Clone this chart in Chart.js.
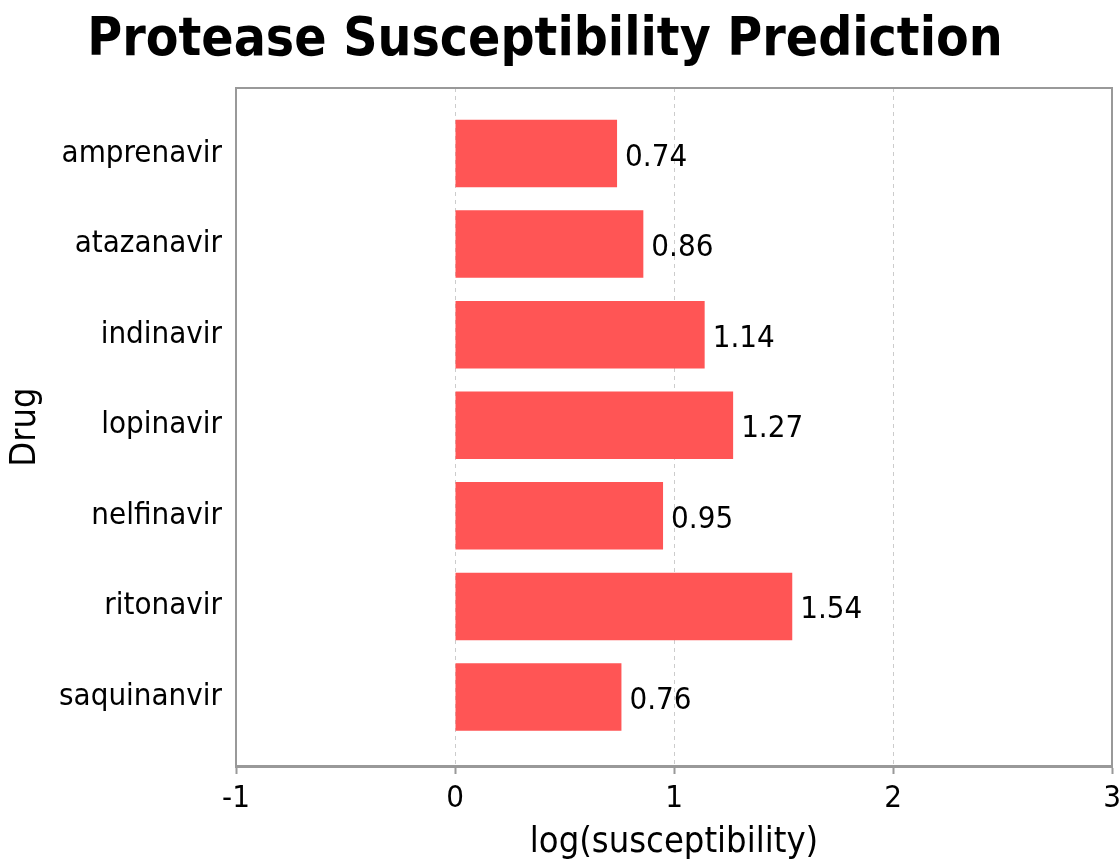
<!DOCTYPE html>
<html>
<head>
<meta charset="utf-8">
<script src="https://cdn.jsdelivr.net/npm/chart.js@4"></script>
<style>
  html, body { margin: 0; padding: 0; background: #ffffff; }
  #wrap { width: 1120px; height: 861px; }
</style>
</head>
<body>
<div id="wrap"><canvas id="chart"></canvas></div>
<script>
var drugs = ["amprenavir", "atazanavir", "indinavir", "lopinavir", "nelfinavir", "ritonavir", "saquinanvir"];
var log_susceptibility = [0.74, 0.86, 1.14, 1.27, 0.95, 1.54, 0.76];
var x_ticks = [-1, 0, 1, 2, 3];
var chart_title = "Protease Susceptibility Prediction";

var font_family = "'DejaVu Sans Condensed', 'DejaVu Sans', sans-serif";

// bars are placed on a numeric index axis so the category margins can match the original
var bar_points = drugs.map(function(d, i) {
  return { x: log_susceptibility[i], y: i };
});

// title drawn by hand so it can sit a bit left of the page center
var title_plugin = {
  id: "title_text",
  afterDraw: function(chart) {
    var ctx = chart.ctx;
    ctx.save();
    ctx.font = "bold 53px " + font_family;
    ctx.fillStyle = "#000000";
    ctx.textAlign = "center";
    ctx.textBaseline = "alphabetic";
    ctx.fillText(chart_title, 545, 55);
    ctx.restore();
  }
};

// frame around the plot area (top and right side, left/bottom are axis borders)
var frame_plugin = {
  id: "frame",
  afterDraw: function(chart) {
    var ctx = chart.ctx;
    var a = chart.chartArea;
    ctx.save();
    ctx.strokeStyle = "#999999";
    ctx.lineWidth = 2;
    ctx.beginPath();
    ctx.moveTo(a.left, a.top);
    ctx.lineTo(a.right, a.top);
    ctx.lineTo(a.right, a.bottom);
    ctx.stroke();
    ctx.restore();
  }
};

// value labels to the right of each bar
var value_labels = {
  id: "value_labels",
  afterDatasetsDraw: function(chart) {
    var ctx = chart.ctx;
    var meta = chart.getDatasetMeta(0);
    ctx.save();
    ctx.font = "31px " + font_family;
    ctx.fillStyle = "#000000";
    ctx.textAlign = "left";
    ctx.textBaseline = "middle";
    meta.data.forEach(function(bar, i) {
      ctx.fillText(log_susceptibility[i].toFixed(2), bar.x + 8, bar.y + 4);
    });
    ctx.restore();
  }
};

var chart = new Chart("chart", {
  type: "bar",
  data: {
    datasets: [{
      data: bar_points,
      backgroundColor: "rgb(255,85,85)",
      borderWidth: 0,
      categoryPercentage: 1.0,
      barPercentage: 0.745
    }]
  },
  options: {
    indexAxis: "y",
    responsive: true,
    maintainAspectRatio: false,
    animation: false,
    layout: { padding: { left: 0, right: 0, top: 88, bottom: 0 } },
    plugins: {
      legend: { display: false },
      tooltip: { enabled: false },
      title: { display: false }
    },
    scales: {
      x: {
        type: "linear",
        min: -1,
        max: 3,
        afterBuildTicks: function(scale) {
          scale.ticks = x_ticks.map(function(v) { return { value: v }; });
        },
        afterFit: function(scale) {
          scale.height = 95;
          // the last tick label is allowed to run off the edge, as in the original
          scale.paddingRight = 8;
        },
        grid: {
          color: "#cccccc",
          lineWidth: 1,
          drawTicks: true,
          tickLength: 8,
          tickColor: "#999999",
          tickWidth: 2,
          tickBorderDash: []
        },
        border: { display: true, color: "#999999", width: 3, dash: [4, 4] },
        ticks: {
          color: "#000000",
          padding: 6,
          font: { family: font_family, size: 31 },
          maxRotation: 0
        },
        title: {
          display: true,
          text: "log(susceptibility)",
          color: "#000000",
          font: { family: font_family, size: 36, lineHeight: 1.0 },
          padding: { top: 0, bottom: 0 }
        }
      },
      y: {
        type: "linear",
        reverse: true,
        offset: false,
        min: -0.723,
        max: 6.762,
        afterBuildTicks: function(scale) {
          scale.ticks = drugs.map(function(d, i) { return { value: i }; });
        },
        afterFit: function(scale) { scale.width = 236; },
        grid: { display: false, drawTicks: false, offset: false },
        border: { display: true, color: "#999999", width: 2 },
        ticks: {
          color: "#000000",
          padding: 14,
          font: { family: font_family, size: 31 },
          callback: function(value) { return drugs[value]; }
        },
        title: {
          display: true,
          text: "Drug",
          color: "#000000",
          font: { family: font_family, size: 36, lineHeight: 1.2 },
          padding: { top: 4, bottom: 0 }
        }
      }
    }
  },
  plugins: [title_plugin, frame_plugin, value_labels]
});
</script>
</body>
</html>
